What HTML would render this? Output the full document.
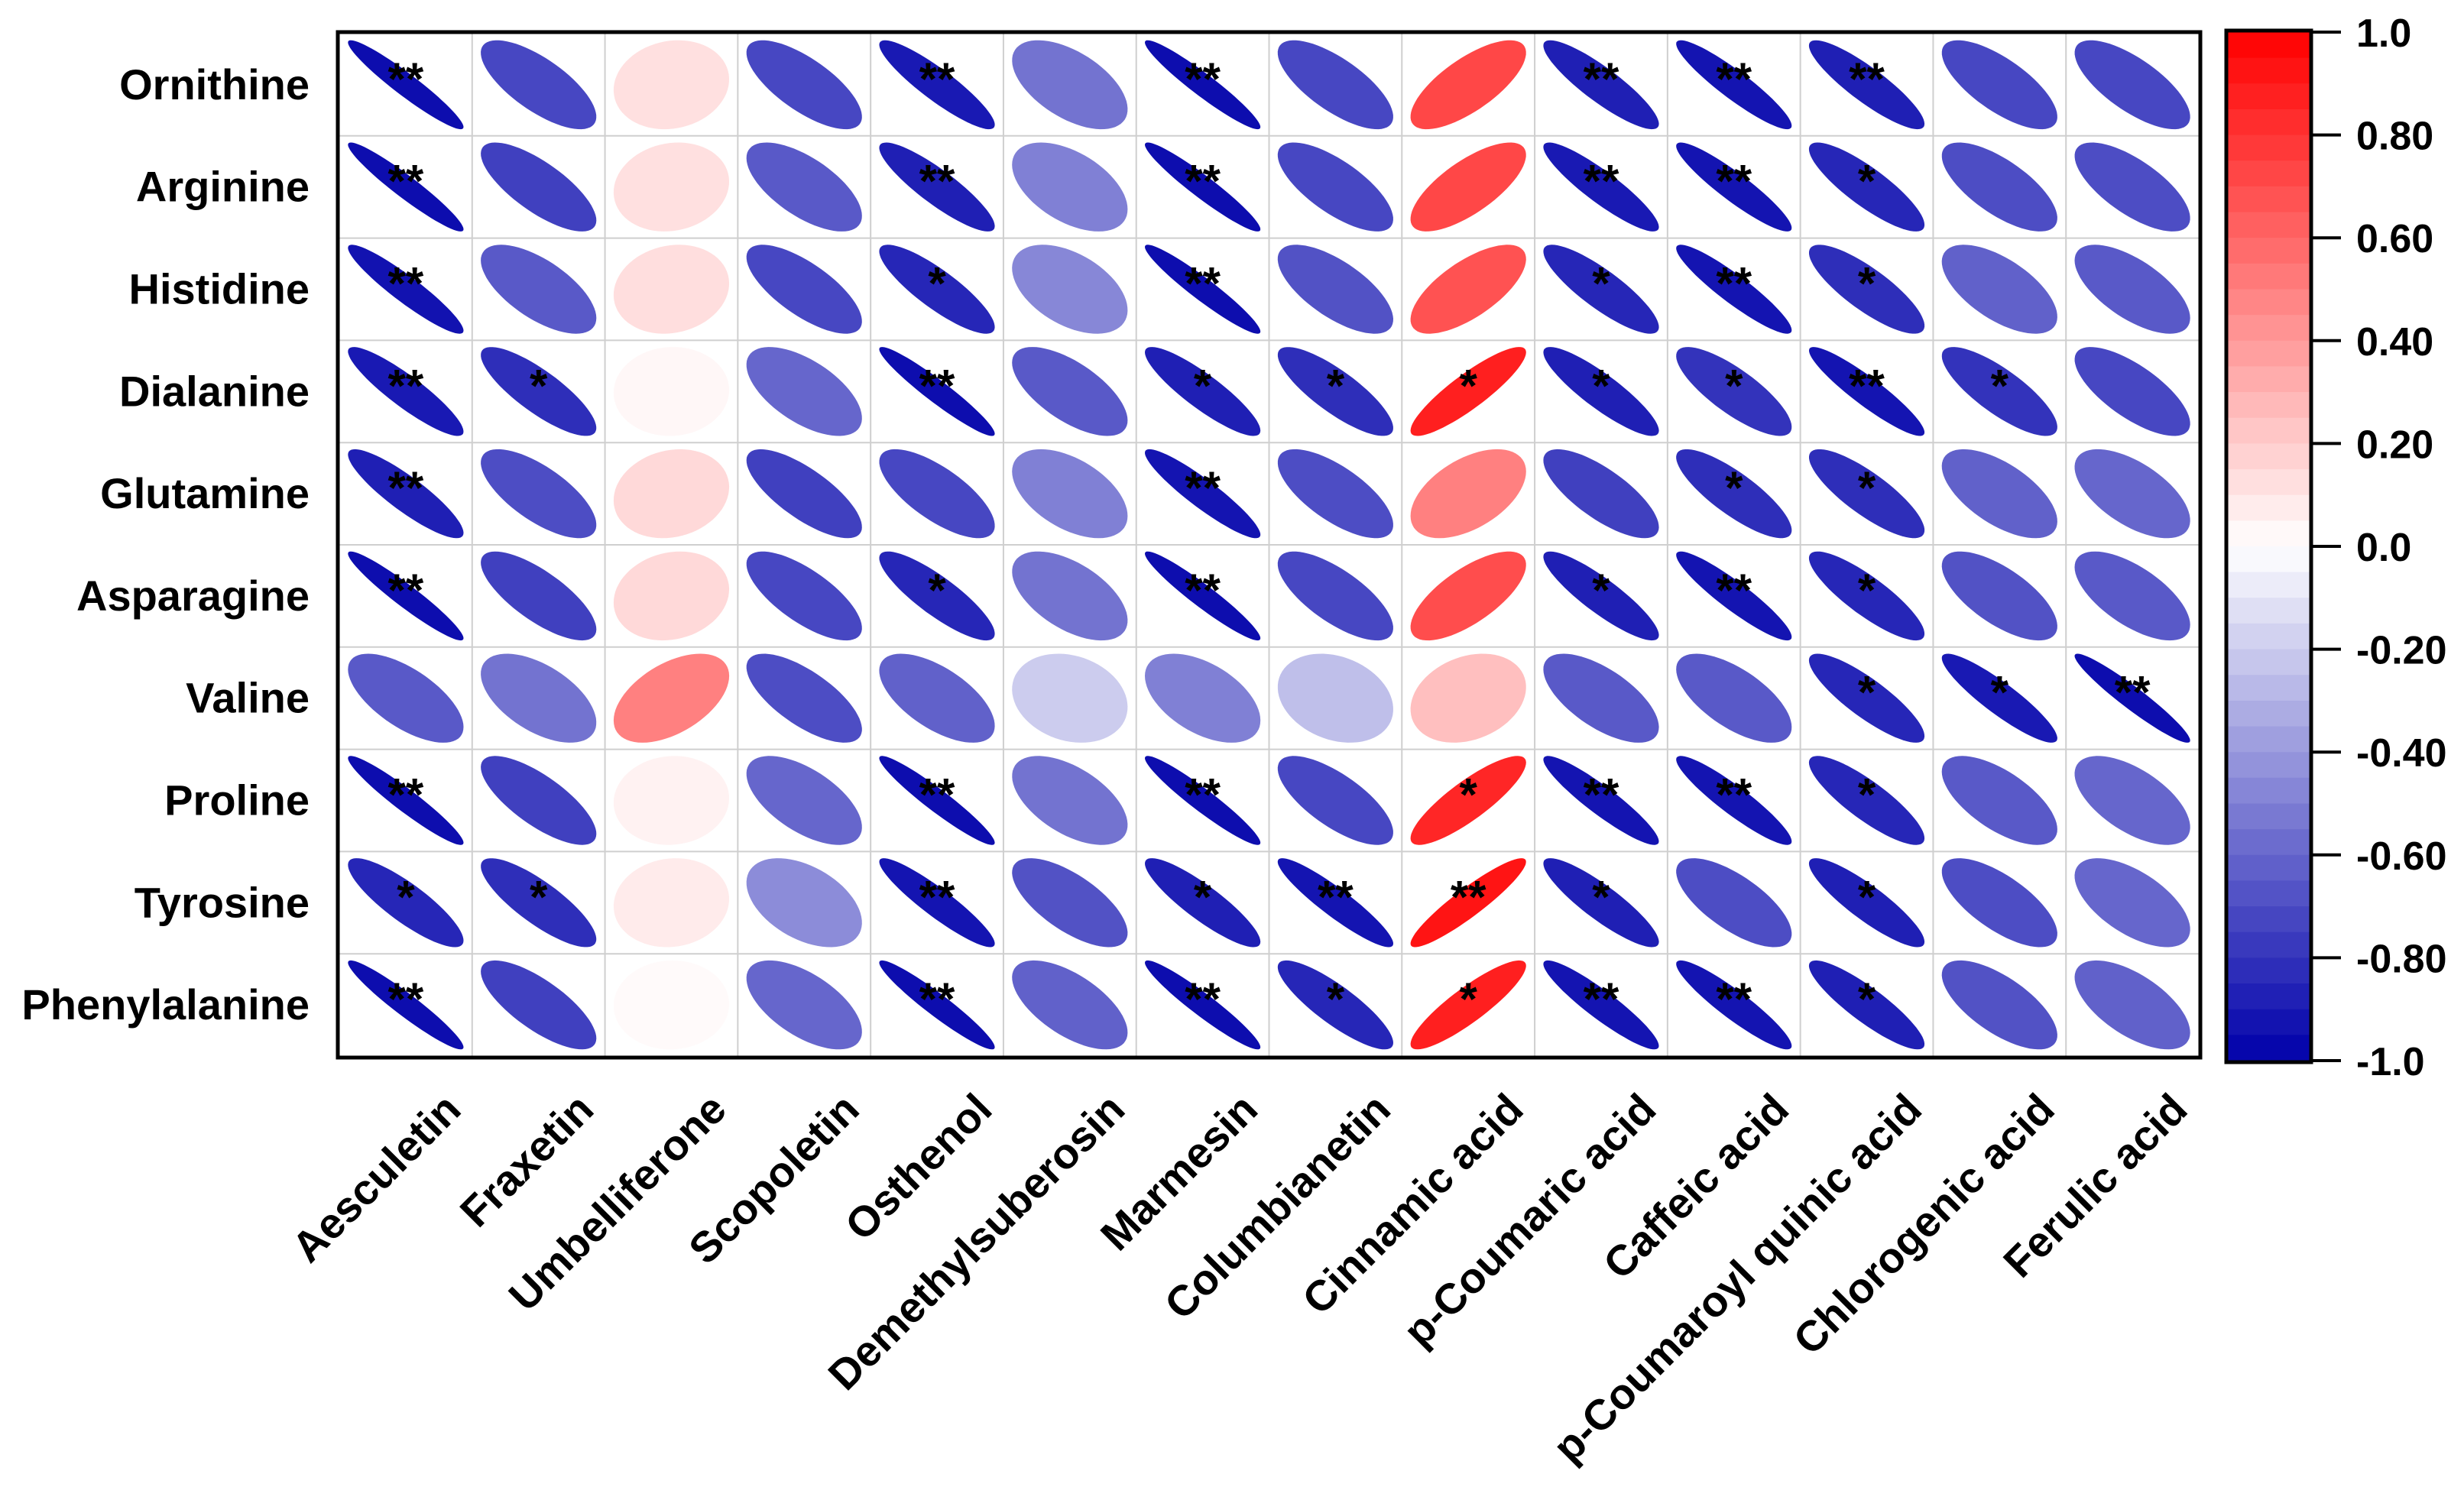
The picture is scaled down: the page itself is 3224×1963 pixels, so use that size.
<!DOCTYPE html>
<html><head><meta charset="utf-8"><style>
html,body{margin:0;padding:0;background:#fff;}
svg{display:block;}
text{font-family:"Liberation Sans",Arial,sans-serif;}
</style></head><body>
<svg id="chart" width="3224" height="1963" viewBox="0 0 3224 1963" xmlns="http://www.w3.org/2000/svg">
<rect x="0" y="0" width="3224" height="1963" fill="#fff"/>
<g id="grid"></g>
<g id="cells"></g>
<g id="stars"></g>
<rect x="442" y="42" width="2437" height="1342" fill="none" stroke="#000" stroke-width="5"/>
<g id="ylabels"></g>
<g id="xlabels"></g>
<g id="cbar"></g>
</svg>
<script>
const rowNames = ["Ornithine","Arginine","Histidine","Dialanine","Glutamine","Asparagine","Valine","Proline","Tyrosine","Phenylalanine"];
const colNames = ["Aesculetin","Fraxetin","Umbelliferone","Scopoletin","Osthenol","Demethylsuberosin","Marmesin","Columbianetin","Cinnamic acid","p-Coumaric acid","Caffeic acid","p-Coumaroyl quinic acid","Chlorogenic acid","Ferulic acid"];
const rOrnithine = [-0.95,-0.72,0.12,-0.72,-0.9,-0.55,-0.95,-0.72,0.72,-0.88,-0.92,-0.88,-0.72,-0.72];
const rArginine = [-0.95,-0.75,0.12,-0.65,-0.88,-0.5,-0.95,-0.72,0.72,-0.9,-0.92,-0.85,-0.7,-0.7];
const rHistidine = [-0.93,-0.65,0.13,-0.72,-0.85,-0.47,-0.95,-0.68,0.68,-0.85,-0.92,-0.82,-0.62,-0.65];
const rDialanine = [-0.9,-0.82,0.03,-0.6,-0.95,-0.65,-0.88,-0.82,0.88,-0.88,-0.8,-0.92,-0.8,-0.72];
const rGlutamine = [-0.88,-0.7,0.15,-0.75,-0.72,-0.5,-0.92,-0.7,0.5,-0.75,-0.82,-0.82,-0.62,-0.6];
const rAsparagine = [-0.95,-0.75,0.15,-0.72,-0.85,-0.55,-0.95,-0.72,0.7,-0.88,-0.92,-0.85,-0.68,-0.65];
const rValine = [-0.65,-0.55,0.5,-0.7,-0.62,-0.2,-0.5,-0.25,0.25,-0.65,-0.65,-0.85,-0.9,-0.95];
const rProline = [-0.95,-0.75,0.05,-0.6,-0.95,-0.55,-0.95,-0.72,0.85,-0.92,-0.92,-0.85,-0.65,-0.6];
const rTyrosine = [-0.85,-0.82,0.08,-0.45,-0.92,-0.68,-0.88,-0.92,0.92,-0.88,-0.7,-0.88,-0.7,-0.6];
const rPhenylalanine = [-0.95,-0.75,0.02,-0.6,-0.95,-0.62,-0.95,-0.85,0.88,-0.92,-0.92,-0.88,-0.68,-0.62];
const values = [rOrnithine,rArginine,rHistidine,rDialanine,rGlutamine,rAsparagine,rValine,rProline,rTyrosine,rPhenylalanine];
const sigOrnithine = ["**","","","","**","","**","","","**","**","**","",""];
const sigArginine = ["**","","","","**","","**","","","**","**","*","",""];
const sigHistidine = ["**","","","","*","","**","","","*","**","*","",""];
const sigDialanine = ["**","*","","","**","","*","*","*","*","*","**","*",""];
const sigGlutamine = ["**","","","","","","**","","","","*","*","",""];
const sigAsparagine = ["**","","","","*","","**","","","*","**","*","",""];
const sigValine = ["","","","","","","","","","","","*","*","**"];
const sigProline = ["**","","","","**","","**","","*","**","**","*","",""];
const sigTyrosine = ["*","*","","","**","","*","**","**","*","","*","",""];
const sigPhenylalanine = ["**","","","","**","","**","*","*","**","**","*","",""];
const sigs = [sigOrnithine,sigArginine,sigHistidine,sigDialanine,sigGlutamine,sigAsparagine,sigValine,sigProline,sigTyrosine,sigPhenylalanine];
const cbarTicks = [1.0,0.8,0.6,0.4,0.2,0.0,-0.2,-0.4,-0.6,-0.8,-1.0];
const cbarTickLabels = ["1.0","0.80","0.60","0.40","0.20","0.0","-0.20","-0.40","-0.60","-0.80","-1.0"];

const NS="http://www.w3.org/2000/svg";
const X0=444, X1=2877, Y0=44, Y1=1382;
const cw=(X1-X0)/colNames.length, ch=(Y1-Y0)/rowNames.length;
const xC=i=>X0+(i+0.5)*cw;
const yC=j=>Y0+(j+0.5)*ch;
function color(r){
  let R,G,B;
  if(r<0){const t=1+r; R=255*t; G=255*t; B=170+85*t;}
  else {R=255; G=255*(1-r); B=255*(1-r);}
  return `rgb(${Math.round(R)},${Math.round(G)},${Math.round(B)})`;
}
function mk(tag,attrs,parent){const e=document.createElementNS(NS,tag);for(const k in attrs)e.setAttribute(k,attrs[k]);parent.appendChild(e);return e;}

const grid=document.getElementById('grid');
for(let i=1;i<colNames.length;i++){
  const l=mk('line',{x1:X0+i*cw,x2:X0+i*cw,y1:Y0,y2:Y1,stroke:'#cfcfcf','stroke-width':2},grid);
  
  
}
for(let j=1;j<rowNames.length;j++){
  const l=mk('line',{x1:X0,x2:X1,y1:Y0+j*ch,y2:Y0+j*ch,stroke:'#cfcfcf','stroke-width':2},grid);
  
  
}

const cells=document.getElementById('cells'), stars=document.getElementById('stars');
for(let j=0;j<rowNames.length;j++){
  for(let i=0;i<colNames.length;i++){
    const r=values[j][i], d=Math.acos(Math.max(-0.999,Math.min(0.999,r)));
    const cx=xC(i), cy=yC(j), hw=cw/2*0.87, hh=ch/2*0.87;
    let p='';
    for(let k=0;k<=72;k++){
      const th=k/72*2*Math.PI;
      const ux=Math.cos(th+d/2), uy=Math.cos(th-d/2);
      p+=(k?'L':'M')+(cx+ux*hw).toFixed(1)+','+(cy-uy*hh).toFixed(1);
    }
    const e=mk('path',{d:p+'Z',fill:color(r)},cells);
    
    
    const s=sigs[j][i];
    if(s){
      const t=mk('text',{x:cx,y:cy+13,'text-anchor':'middle','font-size':60,'font-weight':'bold',fill:'#000'},stars);
      t.textContent=s;
      
      
    }
  }
}

const yl=document.getElementById('ylabels');
rowNames.forEach((n,j)=>{
  const t=mk('text',{x:405,y:yC(j)+19,'text-anchor':'end','font-size':56,'font-weight':'bold'},yl);
  t.textContent=n;
  
  
});
const xl=document.getElementById('xlabels');
colNames.forEach((n,i)=>{
  const x=xC(i)+75, y=1455;
  const t=mk('text',{x:x,y:y,'text-anchor':'end','font-size':56,'font-weight':'bold',transform:`rotate(-45 ${x} ${y})`},xl);
  t.textContent=n;
  
  
});

const cb=document.getElementById('cbar');
const CB0=42, CB1=1388, CBX=2915, CBW=107;
const cbY=v=>CB0+(1-v)/2*(CB1-CB0);
const nSteps=40;
for(let k=0;k<nSteps;k++){
  const vTop=1-k*2/nSteps, vMid=vTop-1/nSteps;
  const rr=mk('rect',{x:CBX,y:cbY(vTop),width:CBW,height:(CB1-CB0)/nSteps+0.6,fill:color(vMid)},cb);
  
  
}
const fr=mk('rect',{x:CBX-2,y:CB0-2,width:CBW+4,height:CB1-CB0+4,fill:'none',stroke:'#000','stroke-width':5},cb);


cbarTicks.forEach((v,k)=>{
  const y=cbY(v);
  const l=mk('line',{x1:CBX+CBW,x2:3063,y1:y,y2:y,stroke:'#000','stroke-width':4},cb);
  
  
  const t=mk('text',{x:3083,y:y+19,'font-size':52,'font-weight':'bold'},cb);
  t.textContent=cbarTickLabels[k];
  
  
});
</script>
</body></html>
